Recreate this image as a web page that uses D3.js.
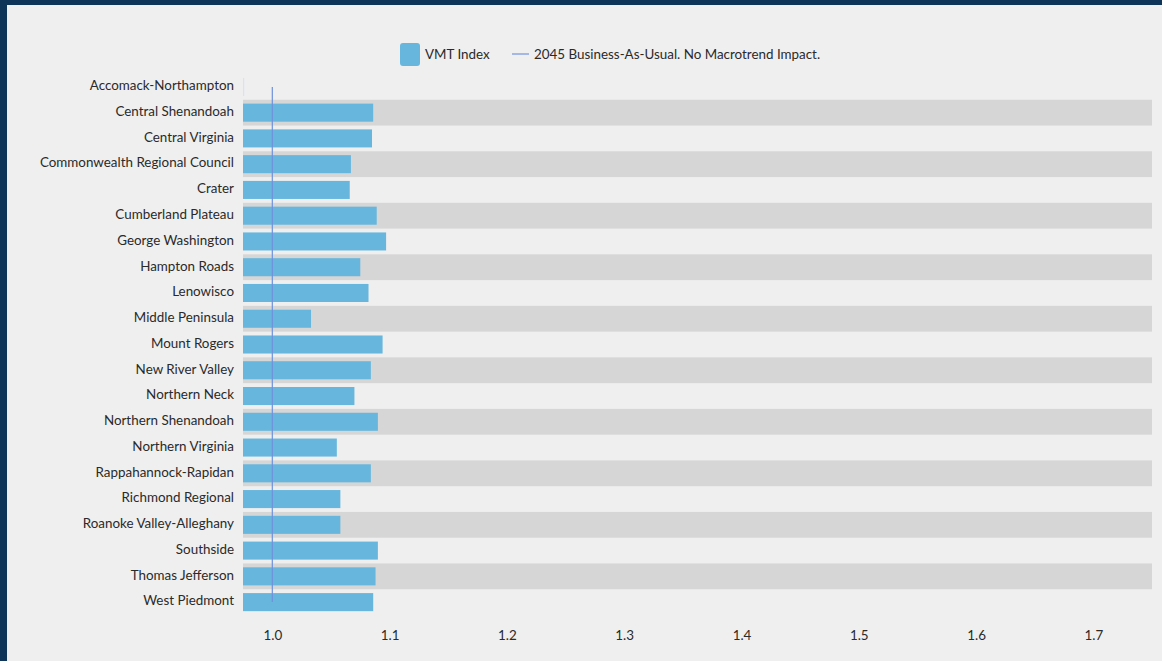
<!DOCTYPE html>
<html>
<head>
<meta charset="utf-8">
<script src="https://cdn.jsdelivr.net/npm/d3@7"></script>
<style>
html,body{margin:0;padding:0;background:#0e3458;}
svg{display:block;}
text{font-family:Lato, "Open Sans", sans-serif;}
</style>
</head>
<body>
<svg id="chart" width="1162" height="661"></svg>
<script>
const categories = ["Accomack-Northampton","Central Shenandoah","Central Virginia","Commonwealth Regional Council","Crater","Cumberland Plateau","George Washington","Hampton Roads","Lenowisco","Middle Peninsula","Mount Rogers","New River Valley","Northern Neck","Northern Shenandoah","Northern Virginia","Rappahannock-Rapidan","Richmond Regional","Roanoke Valley-Alleghany","Southside","Thomas Jefferson","West Piedmont"];
const vmtIndex = [0.976,1.086,1.085,1.067,1.066,1.089,1.097,1.075,1.082,1.033,1.094,1.084,1.070,1.090,1.055,1.084,1.058,1.058,1.090,1.088,1.086];
const baseline = 1.0;
const xTicks = [1.0,1.1,1.2,1.3,1.4,1.5,1.6,1.7];
const seriesNames = ["VMT Index","2045 Business-As-Usual. No Macrotrend Impact."];

const svg = d3.select("#chart");
const W = 1162, H = 661;
const FS = 13.4;
svg.append("rect").attr("x",7).attr("y",5).attr("width",W-7).attr("height",H-5).attr("fill","#efefef");

const x = d3.scaleLinear().domain([0.975,1.75]).range([243,1152]);
const y = d3.scaleBand().domain(categories).range([74,615]).paddingInner(0).paddingOuter(0);
const barPad = 0.15;

// alternating bands
svg.append("g").selectAll("rect").data(categories.filter((d,i)=>i%2===1)).join("rect")
  .attr("x",x.range()[0]).attr("width",x.range()[1]-x.range()[0])
  .attr("y",d=>y(d)).attr("height",y.bandwidth()).attr("fill","#d6d6d6");

// bars
svg.append("g").selectAll("rect").data(categories).join("rect")
  .attr("x",x(x.domain()[0]))
  .attr("y",d=>y(d)+y.bandwidth()*barPad)
  .attr("height",y.bandwidth()*(1-2*barPad))
  .attr("width",(d,i)=>Math.max(1,x(vmtIndex[i])-x(x.domain()[0])))
  .attr("fill",(d,i)=>i===0?"#cfe6f3":"#66b6dd");

// baseline line
svg.append("line")
  .attr("x1",x(baseline)).attr("x2",x(baseline))
  .attr("y1",y(categories[0])+y.bandwidth()/2)
  .attr("y2",y(categories[categories.length-1])+y.bandwidth()/2)
  .attr("stroke","#6f93dc").attr("stroke-width",1.2);

// y axis
const yAxis = svg.append("g").attr("transform",`translate(${x.range()[0]-9},-1)`)
  .call(d3.axisLeft(y).tickSize(0).tickPadding(0));
yAxis.select(".domain").remove();
yAxis.selectAll("text").attr("font-size",FS).attr("fill","#2a2a2a").attr("font-family","Lato, sans-serif");

// x axis
const xAxis = svg.append("g").attr("transform",`translate(0,622)`)
  .call(d3.axisBottom(x).tickValues(xTicks).tickFormat(d3.format(".1f")).tickSize(0).tickPadding(8));
xAxis.select(".domain").remove();
xAxis.selectAll("text").attr("font-size",FS).attr("fill","#2a2a2a").attr("font-family","Lato, sans-serif");

// legend
const lg = svg.append("g");
lg.append("rect").attr("x",400).attr("y",43).attr("width",20).attr("height",23).attr("rx",3).attr("fill","#66b6dd");
lg.append("text").attr("x",425).attr("y",59).attr("font-size",FS).attr("fill","#2a2a2a").text(seriesNames[0]);
lg.append("line").attr("x1",512).attr("x2",529).attr("y1",54).attr("y2",54).attr("stroke","#6f93dc").attr("stroke-width",1.2);
lg.append("text").attr("x",534).attr("y",59).attr("font-size",FS).attr("fill","#2a2a2a").text(seriesNames[1]);
</script>
</body>
</html>
